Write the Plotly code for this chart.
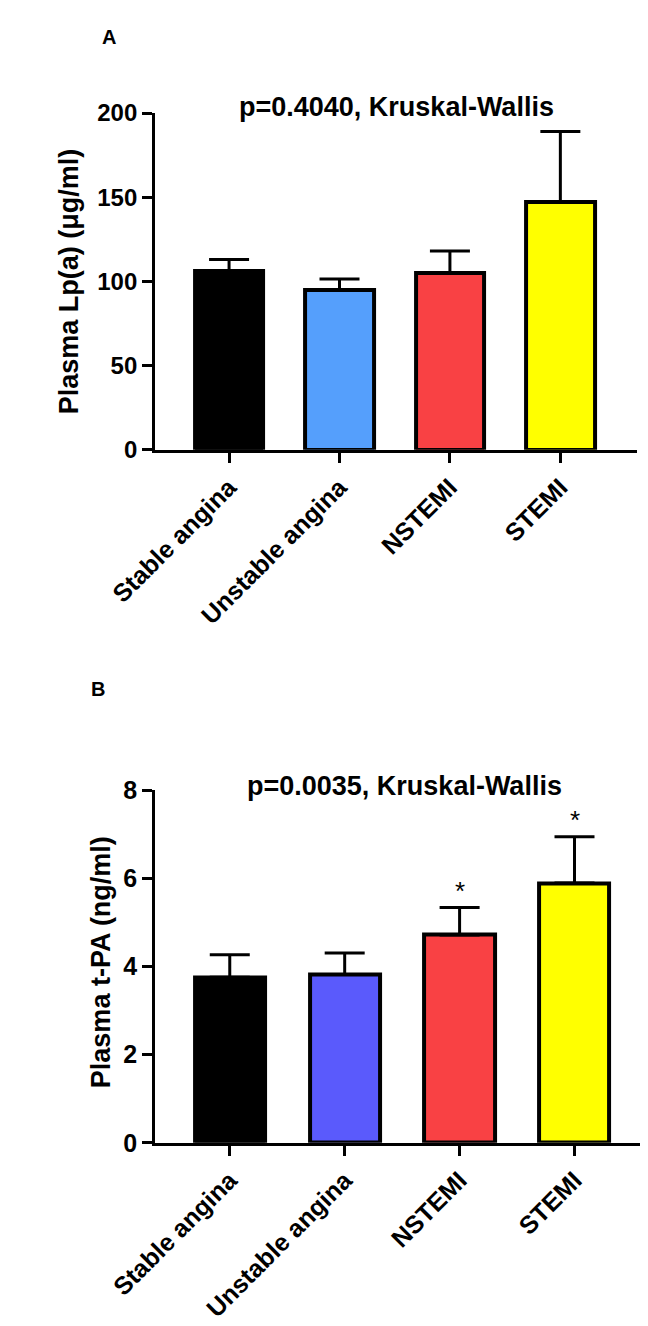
import plotly.graph_objects as go

categories = ["Stable angina", "Unstable angina", "NSTEMI", "STEMI"]

# Panel A: Plasma Lp(a) (µg/ml)
lpa_mean = [106, 95, 105, 147]
lpa_err = [7, 6.5, 13, 42]
lpa_colors = ["#000000", "#559FFC", "#F94144", "#FFFF00"]
lpa_ticks = [0, 50, 100, 150, 200]

# Panel B: Plasma t-PA (ng/ml)
tpa_mean = [3.76, 3.82, 4.72, 5.9]
tpa_err = [0.51, 0.49, 0.62, 1.05]
tpa_colors = ["#000000", "#5A5AFC", "#F94144", "#FFFF00"]
tpa_ticks = [0, 2, 4, 6, 8]
tpa_sig = ["", "", "*", "*"]

FONT = "Liberation Sans, Arial, Helvetica, sans-serif"
W, H = 648, 1326

fig = go.Figure()

fig.add_trace(go.Bar(
    x=categories, y=lpa_mean, width=0.62,
    marker=dict(color=lpa_colors, line=dict(color="black", width=4)),
    error_y=dict(type="data", array=lpa_err, arrayminus=[0] * 4, symmetric=False,
                 color="black", thickness=3, width=20),
    xaxis="x", yaxis="y", showlegend=False,
))
fig.add_trace(go.Bar(
    x=categories, y=tpa_mean, width=0.61,
    marker=dict(color=tpa_colors, line=dict(color="black", width=4)),
    error_y=dict(type="data", array=tpa_err, arrayminus=[0] * 4, symmetric=False,
                 color="black", thickness=3, width=20),
    xaxis="x2", yaxis="y2", showlegend=False,
))


def axis_style(size):
    return dict(showline=True, linecolor="black", linewidth=3, ticks="outside",
                tickcolor="black", tickwidth=3, ticklen=10, showgrid=False,
                zeroline=False,
                tickfont=dict(family=FONT, size=size, color="black", weight="bold"))


fig.update_layout(
    width=W, height=H, margin=dict(l=0, r=0, t=0, b=0),
    paper_bgcolor="white", plot_bgcolor="white",
    bargap=0,
    xaxis=dict(domain=[107 / W, 627 / W], anchor="y", range=[-0.67, 3.69],
               tickangle=-45, **axis_style(25)),
    yaxis=dict(domain=[1 - 437 / H, 1 - 93 / H], anchor="x", range=[0, 200],
               tickvals=lpa_ticks, **axis_style(24)),
    xaxis2=dict(domain=[107 / W, 645 / W], anchor="y2", range=[-0.65, 3.685],
                tickangle=-45, **axis_style(25)),
    yaxis2=dict(domain=[1 - 1145 / H, 1 - 785 / H], anchor="x2", range=[0, 8],
                tickvals=tpa_ticks, **axis_style(25)),
)

ann_font = dict(family=FONT, color="black", weight="bold")
annotations = [
    dict(text="A", x=57 / W, y=1 - 15 / H, xref="paper", yref="paper",
         showarrow=False, xanchor="center", yanchor="middle", font=dict(size=20, **ann_font)),
    dict(text="B", x=45 / W, y=1 - 681 / H, xref="paper", yref="paper",
         showarrow=False, xanchor="center", yanchor="middle", font=dict(size=20, **ann_font)),
    dict(text="p=0.4040, Kruskal-Wallis", x=368 / W, y=1 - 87 / H, xref="paper", yref="paper",
         showarrow=False, xanchor="center", yanchor="middle", font=dict(size=27, **ann_font)),
    dict(text="p=0.0035, Kruskal-Wallis", x=376 / W, y=1 - 780 / H, xref="paper", yref="paper",
         showarrow=False, xanchor="center", yanchor="middle", font=dict(size=27, **ann_font)),
    dict(text="Plasma Lp(a) (μg/ml)", x=15 / W, y=1 - 265 / H, xref="paper", yref="paper",
         showarrow=False, xanchor="center", yanchor="middle", textangle=-90,
         font=dict(size=27, **ann_font)),
    dict(text="Plasma t-PA (ng/ml)", x=48 / W, y=1 - 960 / H, xref="paper", yref="paper",
         showarrow=False, xanchor="center", yanchor="middle", textangle=-90,
         font=dict(size=27, **ann_font)),
]
for c, m, e, s in zip(categories, tpa_mean, tpa_err, tpa_sig):
    if s:
        annotations.append(dict(text=s, x=c, y=m + e, xref="x2", yref="y2", showarrow=False,
                                xanchor="center", yanchor="bottom",
                                font=dict(size=26, family=FONT, color="black")))
fig.update_layout(annotations=annotations)

fig.write_html("out.html")
